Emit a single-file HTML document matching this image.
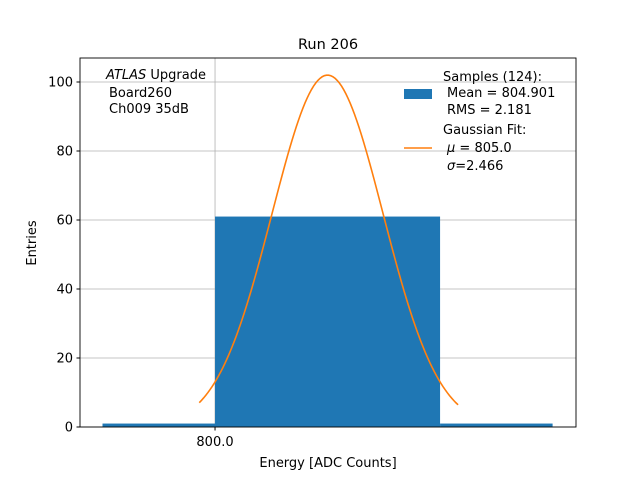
<!DOCTYPE html>
<html><head><meta charset="utf-8"><style>
body{margin:0;background:#fff;font-family:"Liberation Sans","DejaVu Sans",sans-serif}
svg text{font-family:"DejaVu Sans","Liberation Sans",sans-serif;white-space:pre}
</style></head><body>
<svg id="chart" width="640" height="480">
<rect width="640" height="480" fill="#fff"/>
<text x="328" y="49" font-size="14.5" text-anchor="middle">Run 206</text>
<g id="grid"></g>
<g id="bars"></g>
<path id="fit" fill="none" stroke="#ff7f0e" stroke-width="1.6"/>
<rect x="80" y="58" width="496" height="369" fill="none" stroke="#000" stroke-width="0.9"/>
<g id="ticks"></g>
<text x="328" y="467" font-size="13" text-anchor="middle">Energy [ADC Counts]</text>
<text transform="translate(36,243) rotate(-90)" font-size="13" text-anchor="middle">Entries</text>
<g font-size="13">
<text x="106" y="79"><tspan font-style="italic">ATLAS</tspan> Upgrade</text>
<text x="109" y="97">Board260</text>
<text x="109" y="113">Ch009 35dB</text>
</g>
<g font-size="13">
<rect x="404" y="89" width="28" height="10" fill="#1f77b4"/>
<text x="443" y="81">Samples (124):</text>
<text x="447" y="97">Mean = 804.901</text>
<text x="447" y="114">RMS = 2.181</text>
<line x1="404" y1="148" x2="432" y2="148" stroke="#ff7f0e" stroke-width="1.6"/>
<text x="443" y="134">Gaussian Fit:</text>
<text x="447" y="152"><tspan font-style="italic">μ</tspan> = 805.0</text>
<text x="447" y="170"><tspan font-style="italic">σ</tspan>=2.466</text>
</g>
</svg>
<script>
const binEdges=[795,800,810,815];
const counts=[1,61,1];
const yTicks=[0,20,40,60,80,100];
const xTicks=[800];
const xTickLabels=["800.0"];
const fitMu=805.0, fitSigma=2.466, fitAmp=102, fitRange=[799.3,810.8];
const X0=80,X1=576,Y0=427,Y1=58, xmin=794,xmax=816.04, ymin=0,ymax=106.96;
const sx=v=>X0+(v-xmin)/(xmax-xmin)*(X1-X0);
const sy=v=>Y0-(v-ymin)/(ymax-ymin)*(Y0-Y1);
const NS="http://www.w3.org/2000/svg";
function mk(t,a,p){const e=document.createElementNS(NS,t);for(const k in a)e.setAttribute(k,a[k]);p.appendChild(e);return e;}
const grid=document.getElementById('grid'),bars=document.getElementById('bars'),ticks=document.getElementById('ticks');
yTicks.forEach(v=>{
 const g=mk('line',{x1:X0,x2:X1,y1:sy(v),y2:sy(v),stroke:'#b0b0b0','stroke-width':0.8},grid);
 
 
 const t=mk('line',{x1:X0-3.5,x2:X0,y1:sy(v),y2:sy(v),stroke:'#000'},ticks);
 
 
 const l=mk('text',{x:X0-7,y:sy(v)+4.5,'font-size':13,'text-anchor':'end'},ticks);l.textContent=v;
 
 
});
xTicks.forEach((v,i)=>{
 const g=mk('line',{x1:sx(v),x2:sx(v),y1:Y1,y2:Y0,stroke:'#b0b0b0','stroke-width':0.8},grid);
 
 
 const t=mk('line',{x1:sx(v),x2:sx(v),y1:Y0,y2:Y0+3.5,stroke:'#000'},ticks);
 
 
 const l=mk('text',{x:sx(v),y:Y0+19,'font-size':13,'text-anchor':'middle'},ticks);l.textContent=xTickLabels[i];
 
 
});
counts.forEach((c,i)=>{
 const r=mk('rect',{x:sx(binEdges[i]),y:sy(c),width:sx(binEdges[i+1])-sx(binEdges[i]),height:sy(0)-sy(c),fill:'#1f77b4'},bars);
 
 
});
let d='';
for(let k=0;k<=120;k++){const x=fitRange[0]+(fitRange[1]-fitRange[0])*k/120;
 const y=fitAmp*Math.exp(-Math.pow(x-fitMu,2)/(2*fitSigma*fitSigma));
 d+=(k?'L':'M')+sx(x).toFixed(2)+','+sy(y).toFixed(2);}
document.getElementById('fit').setAttribute('d',d);
</script>
</body></html>
